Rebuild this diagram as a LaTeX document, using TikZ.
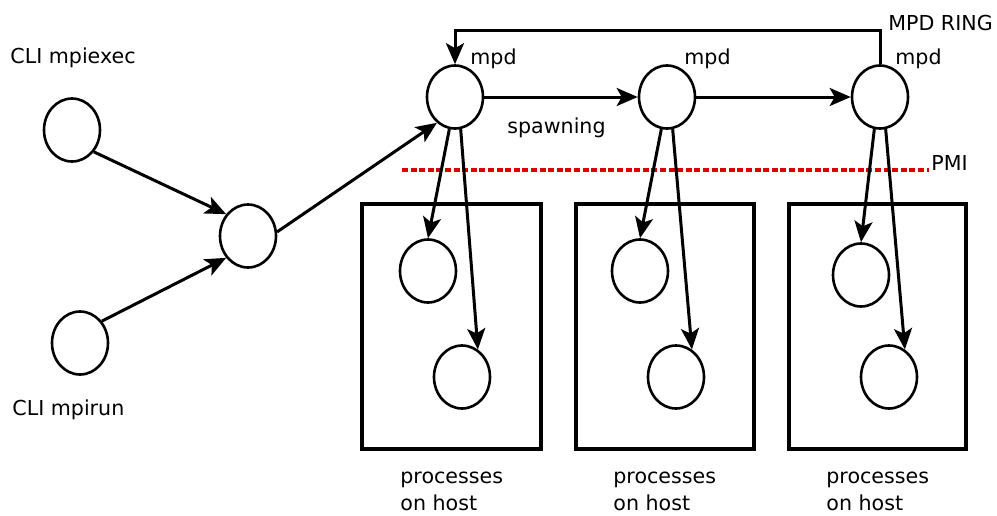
\documentclass[tikz,border=0pt]{standalone}
\usepackage{fontspec}
\setmainfont{DejaVu Sans}
\usetikzlibrary{shapes.geometric,arrows.meta}
\tikzset{
  proc/.style={ellipse, draw, line width=1.3pt, inner sep=0pt,
    minimum width=28pt, minimum height=31.5pt},
  arr/.style={line width=1.5pt, -{Stealth[length=10.5pt,width=9pt,inset=2.5pt]}},
  lbl/.style={inner sep=0pt, anchor=base west, align=left,
    font=\fontsize{10.3}{13.5}\selectfont},
  pmi/.style={draw=red!85!black, line width=2pt, dash pattern=on 3pt off 1.3pt}
}
\begin{document}
\begin{tikzpicture}[x=0.5pt, y=-0.5pt, line cap=butt, line join=miter]
  \useasboundingbox (0,0) rectangle (997,515);
  % los tres hosts, cada uno con su caja
  \draw[line width=1.6pt] (362,204) rectangle (541,449);
  \draw[line width=1.6pt] (576,204) rectangle (754,449);
  \draw[line width=1.6pt] (789,204) rectangle (966,449);
  % la linea PMI (va debajo de las flechas)
  \coordinate (pmiL) at (402,170);
  \coordinate (pmiR) at (929,170);
  \draw[pmi] (pmiL) -- (pmiR);
  \node[lbl] (tPMI) at (931,170) {PMI};
  % los dos lanzadores y el nodo intermedio
  \node[proc] (mpiexec) at (72,130) {};
  \node[proc] (mpirun) at (80,343) {};
  \node[proc] (launcher) at (248,236) {};
  \node[lbl] (tExec) at (10,63) {CLI mpiexec};
  \node[lbl] (tRun) at (12,415) {CLI mpirun};
  % el anillo de mpd
  \node[proc] (mpdA) at (455,97) {};
  \node[proc] (mpdB) at (667,97) {};
  \node[proc] (mpdC) at (880,97) {};
  \node[lbl] (tMpdA) at (470,64) {mpd};
  \node[lbl] (tMpdB) at (684,64) {mpd};
  \node[lbl] (tMpdC) at (895,64) {mpd};
  \node[lbl] (tRing) at (888,30) {MPD RING};
  \node[lbl] (tSpawn) at (507,133) {spawning};
  % los procesos de cada host
  \node[proc] (pA1) at (428,271) {};
  \node[proc] (pA2) at (462,377) {};
  \node[proc] (pB1) at (640,271) {};
  \node[proc] (pB2) at (676,377) {};
  \node[proc] (pC1) at (861,275) {};
  \node[proc] (pC2) at (889,377) {};
  \node[lbl] (tHostA) at (400,510) {processes\\on host};
  \node[lbl] (tHostB) at (613,510) {processes\\on host};
  \node[lbl] (tHostC) at (826,510) {processes\\on host};
  % flechas
  \draw[arr] (mpiexec.-45) -- (launcher.135);
  \draw[arr] (mpirun.45) -- (launcher.-135);
  \draw[arr] (launcher.8) -- (mpdA.-125);
  \draw[arr] (mpdA) -- (mpdB);
  \draw[arr] (mpdB) -- (mpdC);
  \coordinate (ringtop) at (667,30);
  \draw[arr] (mpdC.north) |- (ringtop) -| (mpdA.north);
  \draw[arr] (mpdA.-100) -- (pA1.north);
  \draw[arr] (mpdA.-80) -- (pA2.60);
  \draw[arr] (mpdB.-100) -- (pB1.north);
  \draw[arr] (mpdB.-80) -- (pB2.60);
  \draw[arr] (mpdC.-100) -- (pC1.north);
  \draw[arr] (mpdC.-80) -- (pC2.60);
\end{tikzpicture}
\end{document}
